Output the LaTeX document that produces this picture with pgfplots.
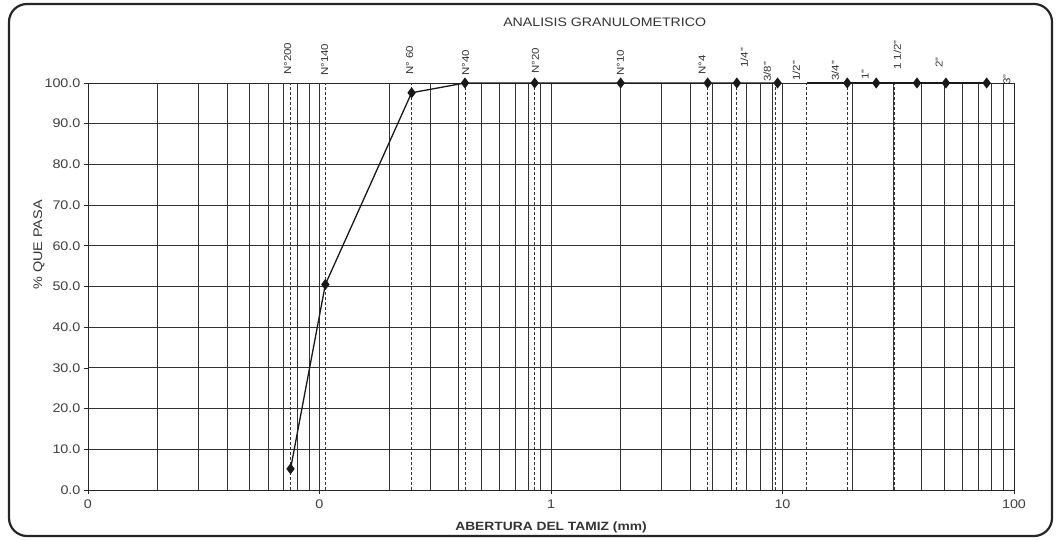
\documentclass[border=0pt]{standalone}
\usepackage{fontspec}
\setmainfont{Liberation Sans}[FakeStretch=1.15]
\usepackage{pgfplots}
\pgfplotsset{compat=1.18}
\begin{document}
\begin{tikzpicture}
\path[use as bounding box] (0pt,0pt) rectangle (1057pt,540pt);
\draw[line width=2.2pt, rounded corners=18pt, black!85] (9pt,4pt) rectangle (1052pt,536pt);
\begin{axis}[
  at={(88pt,50pt)}, anchor=south west,
  scale only axis, width=926pt, height=407pt,
  xmode=log, xmin=0.01, xmax=100, ymin=0, ymax=100,
  clip=false,
  axis line style={black!85, line width=0.9pt},
  xtick={0.01,0.1,1,10,100}, xticklabels={0,0,1,10,100},
  ytick={0,10,...,100},
  yticklabel style={/pgf/number format/.cd, fixed, fixed zerofill, precision=1},
  /pgf/number format/assume math mode=true,
  ticklabel style={font=\fontsize{12.5}{14}\selectfont, text=black!75},
  xticklabel style={yshift=-2pt},
  xtick pos=bottom, ytick pos=left, tick align=outside,
  major tick length=4pt, minor tick length=0pt,
  tick style={black!85, line width=0.7pt},
  grid=both,
  major grid style={black!80, line width=0.8pt},
  minor grid style={black!80, line width=0.8pt},
  extra x ticks={0.075,0.106,0.25,0.425,0.85,2,4.75,6.35,9.3,12.7,19.05,30.3,40},
  extra x tick labels={},
  extra x tick style={grid=major, major grid style={densely dashed, black!80, line width=0.8pt}, major tick length=0pt},
  xlabel={ABERTURA DEL TAMIZ (mm)},
  xlabel style={at={(axis description cs:0.5,-0.093)}, anchor=center, font=\bfseries\fontsize{12}{14}\selectfont, text=black!80},
  ylabel={\% QUE PASA},
  ylabel style={at={(axis description cs:-0.053,0.602)}, anchor=center, font=\fontsize{12.5}{14}\selectfont, text=black!80},
]
\addplot[black!90, line width=1.3pt, mark=diamond*, mark size=4.5pt] coordinates {
(0.075,5.2)(0.106,50.5)(0.25,97.6)(0.425,100)(0.85,100)(2,100)(4.75,100)(6.35,100)(9.525,100)};
\addplot[black!90, line width=1.3pt, mark=diamond*, mark size=4.5pt, mark indices={2,3,4,5,6}] coordinates {
(12.7,100)(19.05,100)(25.4,100)(38.1,100)(50.8,100)(76.2,100)};
\begin{scope}[every node/.style={rotate=90, anchor=west, font=\fontsize{10}{11}\selectfont, text=black!80, inner sep=0pt}]
\node[xshift=8pt] at (axis cs:0.0729,100) {N°200};
\node[xshift=7pt] at (axis cs:0.1054,100) {N°140};
\node[xshift=8pt] at (axis cs:0.245,100) {N° 60};
\node[xshift=7pt] at (axis cs:0.428,100) {N°40};
\node[xshift=9pt] at (axis cs:0.857,100) {N°20};
\node[xshift=7pt] at (axis cs:1.995,100) {N°10};
\node[xshift=8pt] at (axis cs:4.50,100) {N°4};
\node[xshift=15pt] at (axis cs:6.84,100) {1/4"};
\node[xshift=1pt] at (axis cs:8.59,100) {3/8"};
\node[xshift=2pt] at (axis cs:11.46,100) {1/2"};
\node[xshift=2pt] at (axis cs:16.89,100) {3/4"};
\node[xshift=3pt] at (axis cs:22.75,100) {1"};
\node[xshift=13pt] at (axis cs:31.3,100) {1 1/2"};
\node[xshift=15pt] at (axis cs:47.5,100) {2"};
\node[xshift=-2pt] at (axis cs:93.3,100) {3"};
\end{scope}
\node[font=\fontsize{12.3}{14}\selectfont, text=black!80] at (axis description cs:0.558,1.150) {ANALISIS GRANULOMETRICO};
\end{axis}
\end{tikzpicture}
\end{document}
